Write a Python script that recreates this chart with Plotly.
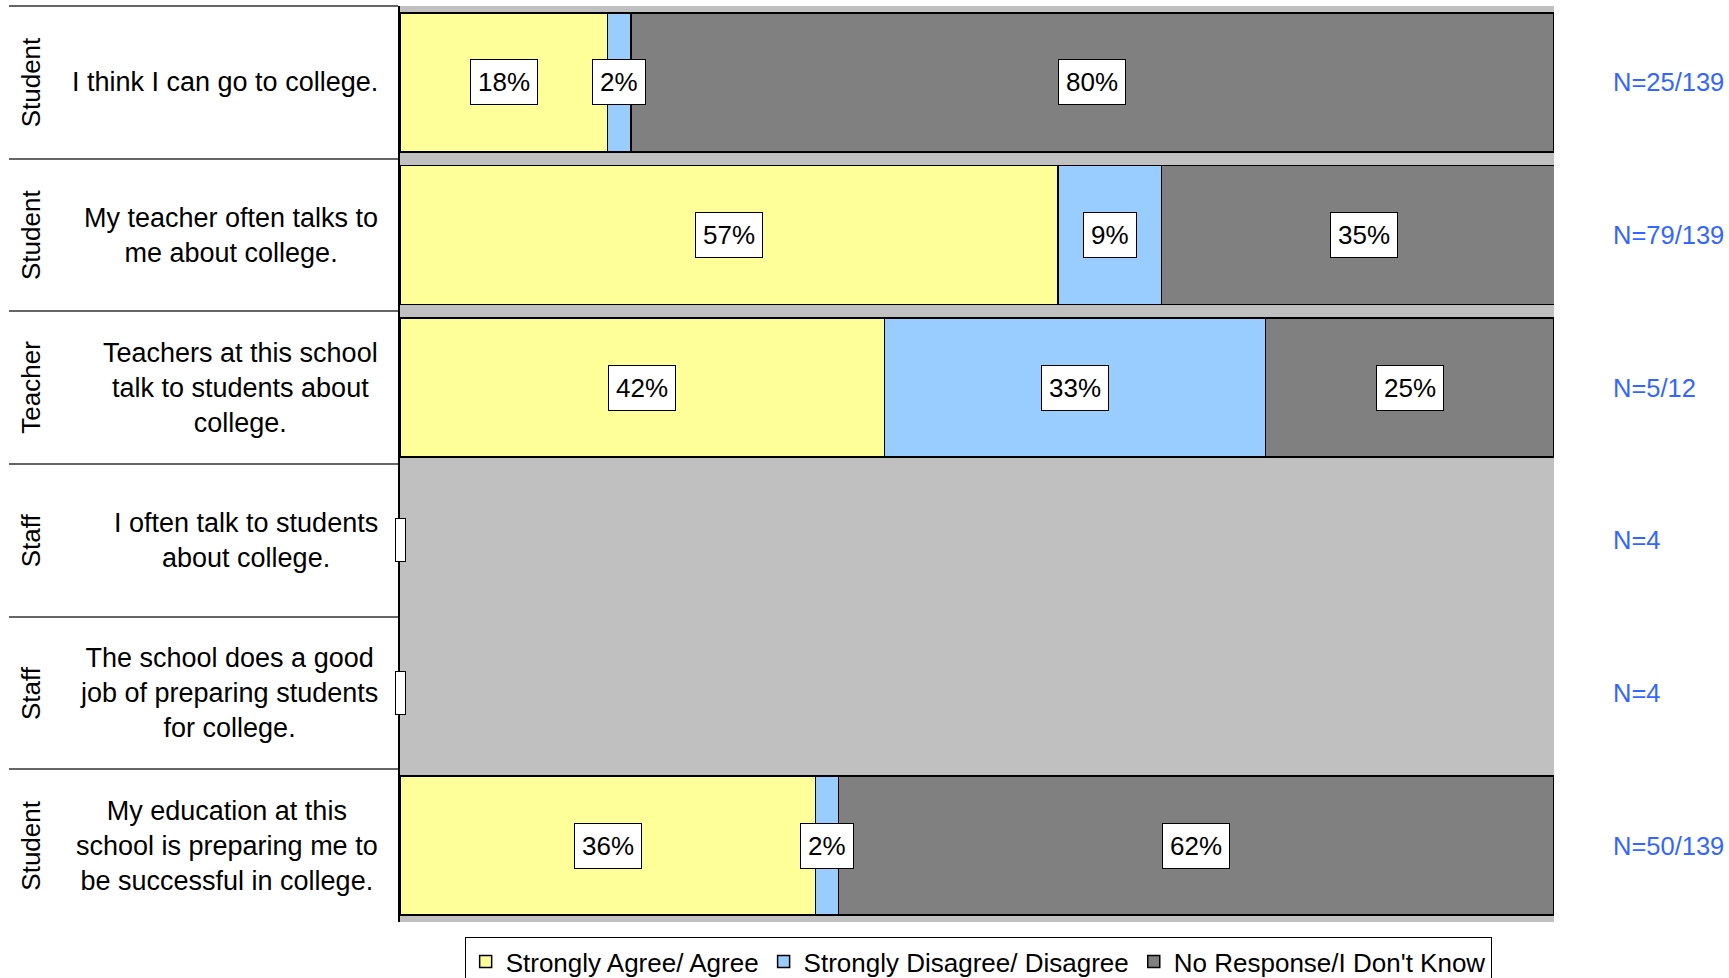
import plotly.graph_objects as go

# ---- data ----
groups = ["Student", "Student", "Teacher", "Staff", "Staff", "Student"]
questions = [
    "I think I can go to college.",
    "My teacher often talks to<br>me about college.",
    "Teachers at this school<br>talk to students about<br>college.",
    "I often talk to students<br>about college.",
    "The school does a good<br>job of preparing students<br>for college.",
    "My education at this<br>school is preparing me to<br>be successful in college.",
]
n_labels = ["N=25/139", "N=79/139", "N=5/12", "N=4", "N=4", "N=50/139"]
agree = [18, 57, 42, None, None, 36]
disagree = [2, 9, 33, None, None, 2]
no_response = [80, 35, 25, None, None, 62]

series = [
    ("Strongly Agree/ Agree", agree, "#FFFF99"),
    ("Strongly Disagree/ Disagree", disagree, "#99CCFF"),
    ("No Response/I Don't Know", no_response, "#808080"),
]

FONT = "Liberation Sans, Arial, sans-serif"
cats = list(range(len(questions)))
cat_names = [f"r{i}" for i in cats]

fig = go.Figure()
for name, vals, col in series:
    fig.add_trace(go.Bar(
        y=cat_names, x=vals, name=name, orientation="h",
        marker=dict(color=col, line=dict(color="black", width=1.5)),
        hoverinfo="skip",
    ))

annotations = []
for i in cats:
    cum = 0
    has = False
    for name, vals, col in series:
        v = vals[i]
        if v is None:
            continue
        has = True
        annotations.append(dict(
            x=cum + v / 2, y=cat_names[i], xref="x", yref="y",
            text=f"{v}%", showarrow=False,
            font=dict(family=FONT, size=26, color="black"),
            bgcolor="white", bordercolor="black", borderwidth=1, borderpad=7,
        ))
        cum += v
    if not has:
        annotations.append(dict(
            x=0, y=cat_names[i], xref="x", yref="y",
            text=" ", showarrow=False, width=9, height=42,
            font=dict(family=FONT, size=26, color="black"),
            bgcolor="white", bordercolor="black", borderwidth=1, borderpad=0,
        ))
    annotations.append(dict(
        x=0, y=cat_names[i], xref="paper", yref="y", xshift=-369,
        text=groups[i], textangle=-90, showarrow=False,
        xanchor="center", yanchor="middle",
        font=dict(family=FONT, size=26, color="black"),
    ))
    annotations.append(dict(
        x=0, y=cat_names[i], xref="paper", yref="y", xshift=-20,
        text=questions[i], showarrow=False, align="center",
        xanchor="right", yanchor="middle",
        font=dict(family=FONT, size=27, color="black"),
    ))
    annotations.append(dict(
        x=1, y=cat_names[i], xref="paper", yref="y", xshift=57,
        text=n_labels[i], showarrow=False,
        xanchor="left", yanchor="middle",
        font=dict(family=FONT, size=25.5, color="#3366FF"),
    ))

fig.update_layout(
    width=1729, height=978,
    margin=dict(l=400, r=175, t=6, b=56, autoexpand=False),
    barmode="stack", bargap=0.09,
    plot_bgcolor="#C0C0C0", paper_bgcolor="white",
    font=dict(family=FONT, size=26, color="black"),
    annotations=annotations,
    showlegend=True,
    legend=dict(
        orientation="h", x=0.501, xanchor="center", y=-0.0165, yanchor="top",
        bgcolor="white", bordercolor="black", borderwidth=1,
        font=dict(family=FONT, size=26, color="black"),
        itemwidth=30, traceorder="normal",
    ),
    xaxis=dict(range=[0, 100], showgrid=False, zeroline=False,
               showticklabels=False, ticks="", fixedrange=True),
    yaxis=dict(categoryorder="array", categoryarray=cat_names,
               autorange="reversed", showticklabels=False,
               showgrid=False, zeroline=False,
               showline=True, linecolor="black", linewidth=2,
               ticks="outside", tickson="boundaries", ticklen=389,
               tickcolor="#666666", tickwidth=2, fixedrange=True),
    hovermode=False,
)

fig.write_html("out.html", config={"displayModeBar": False},
               post_script="document.body.style.margin='0';")
